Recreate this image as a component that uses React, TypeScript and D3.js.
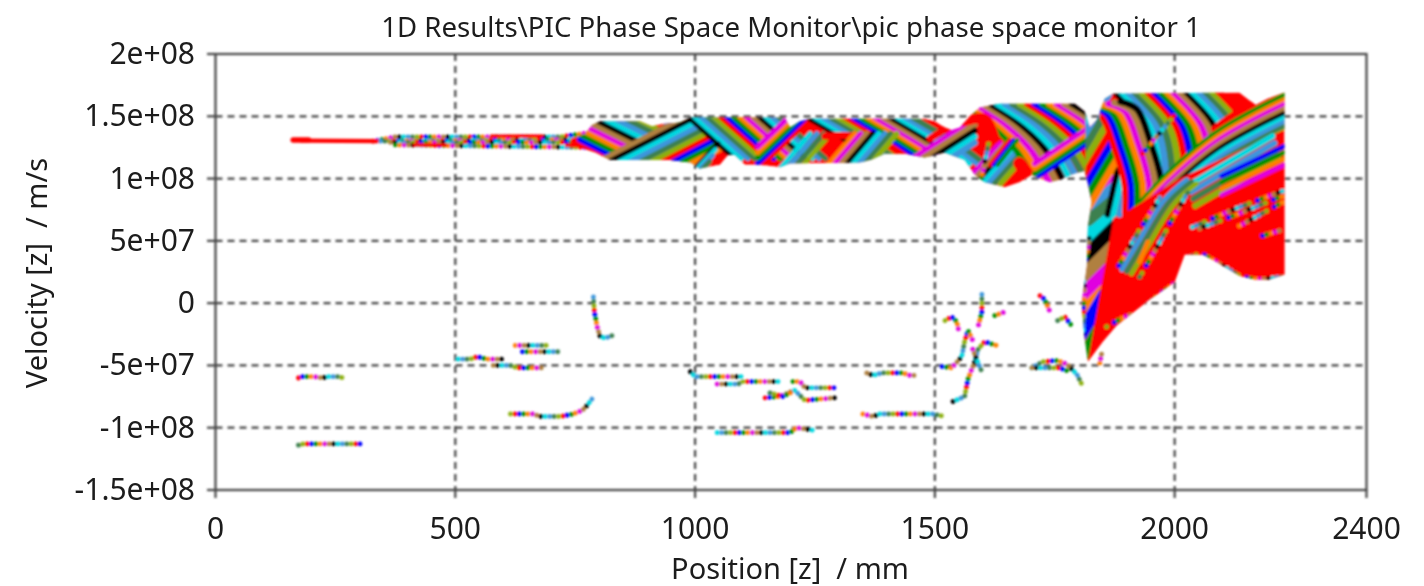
import React from "react";
import * as d3 from "d3";

type P = [number, number];

// Axis values
const xTicks = [0, 500, 1000, 1500, 2000, 2400];
const yTicks = [200, 150, 100, 50, 0, -50, -100, -150];
const yTickLabels = ["2e+08", "1.5e+08", "1e+08", "5e+07", "0", "-5e+07", "-1e+08", "-1.5e+08"];
const titleText = "1D Results\\PIC Phase Space Monitor\\pic phase space monitor 1";
const xLabelText = "Position [z]  / mm";
const yLabelText = "Velocity [z]  / m/s";

// Particle colour cycle
const cycle = ["#ff0000", "#0000ff", "#009000", "#ff8000", "#e000e0", "#b08040", "#000000", "#00d8e0", "#3c96dc", "#3c8050", "#8cb010"];

// All points: [position in mm, velocity in 1e6 m/s]
const bodyOutline: P[] = [
  [740,132],[771,136],[785,143],[802,146],[885,146],[910,142],[937,144],[969,145],[990,149],[1156,149],[1187,149],[1198,141],[1219,146],[1240,148],[1479,148],[1500,146],[1521,141],[1535,139],[1552,141],[1573,150],[1594,157],[1635,160],[1792,160],[1812,154],[1823,141],[1838,147],[1854,164],[1871,168],[2135,169],[2152,164],[2169,159],[2194,164],[2229,169],
  [2229,23],[2198,19],[2167,19],[2135,22],[2083,34],[2058,39],[2021,39],[2000,17],[1948,3],[1879,-18],[1850,-31],[1819,-47],[1812,-27],[1806,0],[1817,30],[1819,62],[1827,81],[1819,96],[1812,106],[1792,104],[1760,99],[1740,97],[1719,100],[1702,103],[1677,97],[1646,93],[1604,97],[1583,103],[1562,115],[1521,121],[1479,117],[1438,120],[1396,120],[1365,115],[1344,113],[1198,112],[1177,109],[1135,111],[1104,111],[1083,119],[1069,119],[1052,111],[1010,108],[990,113],[948,115],[823,115],[792,121],[760,125],[740,125],
];
const redWedge: P[] = [[1819,-47],[1844,7],[1869,61],[1881,87],[1927,111],[2240,111],[2240,11],[1819,-53]];
const upperZone: P[] = [[1844,175],[2250,175],[2250,143],[2010,100],[1885,70],[1844,70]];
const lobeZone: P[] = [[1814,60],[1814,175],[1900,175],[1900,60]];

const redLineHead: P[] = [[162,131],[194,131]];
const redLineTail: P[] = [[177,130.5],[340,130]];

const b1: P[] = [[760,127],[1010,79]];
const b2: P[] = [[812,116],[1115,176]];
const b3: P[] = [[969,155],[1083,116]];
const b4: P[] = [[1000,108],[1048,128]];
const b5: P[] = [[1131,108],[1229,144]];
const b6: P[] = [[1177,108],[1240,136]];
const b7: P[] = [[1208,155],[1344,124],[1385,112]];
const b8: P[] = [[1271,134],[1333,134],[1396,128],[1421,122]];
const b9: P[] = [[1271,108],[1333,136]];
const b10: P[] = [[1438,112],[1583,148]];
const b10Top: P[] = [[1490,132],[1577,154]];
const b11: P[] = [[1562,96],[1635,128]];
const b12: P[] = [[1552,160],[1615,144],[1667,124],[1708,96]];
const blobA: P[] = [[1562,146],[1604,148],[1625,132]];
const blobB: P[] = [[1677,112],[1698,101]];
const b12Low: P[] = [[1615,111],[1656,131]];
const b13: P[] = [[1708,100],[1833,132]];
const leftBlocks: P[] = [[1781,-17],[1896,27]];
const leftBlue: P[] = [[1792,-33],[1854,7]];
const leftGreen: P[] = [[1812,-41],[1854,-13]];
const leftSeaGreen: P[] = [[1819,67],[1869,83]];
const leftSteel: P[] = [[1819,78],[1869,94]];
const leftMagenta: P[] = [[1819,87],[1869,103]];
const leftOrange: P[] = [[1819,97],[1885,111]];
const l3: P[] = [[1860,71],[1881,107]];
const l0: P[] = [[1771,119],[1858,175]];
const l1: P[] = [[1812,157],[1846,151],[1875,124],[1896,95],[1896,67]];
const l2: P[] = [[1869,172],[1933,144],[1954,108],[1948,76]];
const edgeRed: P[] = [[2083,140],[2135,154],[2229,172]];
const f1: P[] = [[1906,71],[1983,103],[2087,137],[2229,167]];
const f2: P[] = [[2031,95],[2204,134]];
const f3: P[] = [[2098,102],[2229,126]];
const i1: P[] = [[1890,27],[1927,51],[1979,83],[2025,99]];
const orangeShort: P[] = [[1927,33],[1944,49]];

const thinRows: P[][] = [
  [[329,130],[375,133.5],[531,133.5],[719,133.5],[781,137]],
  [[344,130],[781,131.5]],
  [[365,129],[771,129]],
  [[375,127],[781,125]],
];
const thinRed: P[][] = [
  [[412,127],[483,127]],
  [[729,127],[781,126]],
  [[573,134],[683,134]],
];

const beadsInBody: P[][] = [
  [[1879,27],[1921,55],[1973,87]],
  [[1927,21],[1969,49],[1994,67],[2031,91]],
  [[2037,61],[2121,75],[2225,90]],
  [[2052,60],[2135,72],[2225,86]],
  [[2135,62],[2225,81]],
  [[2183,54],[2225,59]],
  [[1858,-19],[1885,-13],[1910,-9]],
  [[2027,37],[2056,40],[2087,33],[2139,21],[2177,19],[2223,21]],
  [[1858,-31],[1906,-15],[1948,1],[2000,16]],
  [[1808,-32],[1812,13],[1808,24],[1819,43],[1823,57]],
  [[1597,100],[1612,128]],
  [[1933,120],[2002,152]],
];

const sparseCurves: P[][] = [
  [[173,-60],[177,-59],[204,-59],[223,-60],[235,-59],[256,-59],[267,-60]],
  [[173,-114],[183,-113],[225,-113],[240,-113],[302,-113]],
  [[506,-45],[531,-45],[546,-43],[567,-45],[598,-45]],
  [[579,-50],[615,-50],[629,-52],[681,-52]],
  [[625,-34],[692,-34]],
  [[640,-39],[715,-39]],
  [[615,-89],[662,-89],[677,-91],[719,-91],[746,-89],[765,-86],[775,-82],[785,-77]],
  [[788,5],[790,-7],[796,-19],[802,-27],[813,-28],[827,-26]],
  [[990,-55],[1000,-59],[1104,-59]],
  [[1046,-65],[1090,-65],[1098,-63],[1173,-63]],
  [[1204,-63],[1219,-63],[1229,-68],[1292,-68]],
  [[1146,-76],[1177,-75],[1208,-70],[1229,-78],[1292,-76]],
  [[1156,-72],[1183,-75],[1204,-71]],
  [[1046,-104],[1198,-104],[1212,-100],[1246,-102]],
  [[1358,-56],[1371,-58],[1390,-56],[1433,-56],[1448,-58],[1465,-58]],
  [[1350,-89],[1371,-91],[1385,-89],[1496,-89],[1521,-91]],
  [[1515,-51],[1535,-52],[1556,-43],[1562,-31],[1569,-22],[1579,-30]],
  [[1521,-14],[1535,-11],[1546,-15],[1550,-23]],
  [[1598,7],[1598,-7],[1590,-19]],
  [[1538,-79],[1562,-75],[1569,-61],[1583,-47],[1590,-37],[1604,-31],[1629,-34]],
  [[1579,-37],[1587,-45],[1598,-55]],
  [[1625,-10],[1646,-7]],
  [[1719,6],[1729,3],[1740,-7]],
  [[1756,-14],[1771,-11],[1787,-19]],
  [[1702,-52],[1725,-47],[1756,-46],[1775,-49],[1796,-57],[1806,-65]],
  [[1702,-52],[1725,-52],[1760,-52],[1781,-55]],
  [[1844,-48],[1848,-40]],
];

const W = 1424, H = 586;
const x = d3.scaleLinear().domain([0, 2400]).range([215.5, 1366.5]);
const y = d3.scaleLinear().domain([-150, 200]).range([490, 54]);
const lineOf = d3.line<P>().x((d) => x(d[0])).y((d) => y(d[1]));
const smoothOf = d3.line<P>().x((d) => x(d[0])).y((d) => y(d[1])).curve(d3.curveCatmullRom.alpha(0.5));

function Stripes({ pts, dx = 0, dy = 0, start = 0, n = 1, w = 7 }: { pts: P[]; dx?: number; dy?: number; start?: number; n?: number; w?: number }) {
  return (
    <g fill="none" strokeWidth={w} strokeLinejoin="round" strokeLinecap="round">
      {d3.range(n).map((k) => (
        <path
          key={k}
          d={(smoothOf(pts.map(([a, b]) => [a + k * dx, b + k * dy] as P)) as string)}
          stroke={cycle[(start + k) % cycle.length]}
        />
      ))}
    </g>
  );
}

const STEP = 4.4;
function Beads({ pts, phase = 0, r = 4.8 }: { pts: P[]; phase?: number; r?: number }) {
  const period = STEP * cycle.length;
  return (
    <g fill="none" strokeWidth={r} strokeLinecap="round" strokeLinejoin="round">
      {cycle.map((c, i) => (
        <path key={i} d={lineOf(pts) as string} stroke={c} strokeDasharray={`0.1 ${period - 0.1}`} strokeDashoffset={-((i + phase) % cycle.length) * STEP} />
      ))}
    </g>
  );
}

export default function App() {
  const axisC = "#444";
  const textC = "#1c1c1c";
  const font = "'Noto Sans', sans-serif";
  return (
    <svg width={W} height={H} viewBox={`0 0 ${W} ${H}`} style={{ position: "absolute", left: 0, top: 0, background: "#fff" }}>
      <defs>
        <filter id="soft" x={0} y={0} width={W} height={H} filterUnits="userSpaceOnUse">
          <feGaussianBlur stdDeviation="0.85" />
        </filter>
        <filter id="softText" x={0} y={0} width={W} height={H} filterUnits="userSpaceOnUse">
          <feGaussianBlur stdDeviation="0.55" />
        </filter>
        <clipPath id="bodyClip">
          <path d={(lineOf(bodyOutline) as string) + "Z"} />
        </clipPath>
        <clipPath id="upperClip">
          <path d={(lineOf(upperZone) as string) + "Z"} />
        </clipPath>
        <clipPath id="lobeClip">
          <path d={(lineOf(lobeZone) as string) + "Z"} />
        </clipPath>
      </defs>
      <rect width={W} height={H} fill="#fff" />
      <g filter="url(#soft)">
        {/* grid */}
        <g stroke="#444" strokeWidth={2.2} strokeDasharray="7 5" fill="none">
          {xTicks.slice(1, -1).map((t) => <line key={t} x1={x(t)} x2={x(t)} y1={54} y2={490} />)}
          {yTicks.slice(1, -1).map((t) => <line key={t} x1={215.5} x2={1366.5} y1={y(t)} y2={y(t)} />)}
        </g>

        {/* thin beam */}
        {thinRows.map((r, i) => <Beads key={i} pts={r} phase={i * 3} />)}
        {thinRed.map((r, i) => <path key={i} d={lineOf(r) as string} stroke={cycle[0]} strokeWidth={3.5} fill="none" />)}
        <path d={lineOf(redLineHead) as string} stroke={cycle[0]} strokeWidth={5.5} fill="none" strokeLinecap="round" />
        <path d={lineOf(redLineTail) as string} stroke={cycle[0]} strokeWidth={4.2} fill="none" />

        {/* main body */}
        <g clipPath="url(#bodyClip)">
          <path d={(lineOf(bodyOutline) as string) + "Z"} fill={cycle[0]} />
          <Stripes pts={b1} dy={4.4} start={0} n={15} w={6} />
          <Stripes pts={b2} dy={-4.4} start={5} n={10} w={6} />
          <Stripes pts={b3} dx={13.5} start={6} n={15} w={5} />
          <Stripes pts={b4} dx={-6} dy={-4.8} start={6} n={4} w={5} />
          <Stripes pts={b5} dy={4.4} start={0} n={5} w={5.5} />
          <Stripes pts={b6} dx={14} start={7} n={4} w={5} />
          <Stripes pts={b7} dx={15.6} start={6} n={15} w={5.5} />
          <Stripes pts={b8} start={0} w={7} />
          <Stripes pts={b9} dx={12.5} start={3} n={8} w={5.5} />
          <Stripes pts={b10} dy={-4.8} start={4} n={5} w={6} />
          <Stripes pts={b10Top} start={0} w={7} />
          <Stripes pts={b11} dx={12.5} start={4} n={7} w={5.5} />
          <Stripes pts={b12} dx={15.6} start={2} n={16} w={6.4} />
          <Stripes pts={blobA} start={0} w={10} />
          <Stripes pts={blobB} start={0} w={13} />
          <Stripes pts={b12Low} dx={8} start={0} n={3} w={4} />
          <Stripes pts={b13} dy={4} start={1} n={4} w={5} />

          {/* lower left colour fan */}
          <Stripes pts={leftBlocks} dy={14.4} start={3} n={5} w={14} />
          <Stripes pts={leftSeaGreen} start={9} w={13} />
          <Stripes pts={leftSteel} start={8} w={12} />
          <Stripes pts={leftMagenta} start={4} w={11} />
          <Stripes pts={leftOrange} start={3} w={11} />
          <Stripes pts={leftBlue} start={1} w={13} />
          <Stripes pts={leftGreen} start={2} w={12} />
          <path d={(lineOf(redWedge) as string) + "Z"} fill={cycle[0]} />

          <Stripes pts={l3} dx={12.5} start={6} n={3} w={6} />
          <g clipPath="url(#lobeClip)">
            <Stripes pts={l0} dx={4} dy={-8} start={7} n={8} w={7} />
          </g>
          <g clipPath="url(#upperClip)">
            <Stripes pts={l2} dx={13.5} start={6} n={17} w={6.8} />
            <Stripes pts={l1} dx={12.5} dy={0.8} start={0} n={7} w={6.4} />
            <Stripes pts={edgeRed} start={0} w={7} />
            <Stripes pts={f1} dy={-3.6} start={2} n={10} w={4.8} />
          </g>
          <Stripes pts={f2} dx={4} dy={-5.6} start={7} n={4} w={6} />
          <Stripes pts={f3} dy={-5} start={1} n={4} w={4.6} />
          <Stripes pts={i1} dx={10} dy={-1.6} start={8} n={3} w={5} />
          <Stripes pts={orangeShort} start={3} w={5} />
          {beadsInBody.map((r, i) => <Beads key={i} pts={r} phase={i * 2} />)}
        </g>

        {/* scattered particles */}
        {sparseCurves.map((c, i) => <Beads key={i} pts={c} phase={i * 2} />)}

        {/* axes */}
        <rect x={215.5} y={54} width={1151} height={436} fill="none" stroke={axisC} strokeWidth={2.2} />
        <g stroke={axisC} strokeWidth={2.2}>
          {yTicks.map((t) => <line key={t} x1={207} x2={216} y1={y(t)} y2={y(t)} />)}
          {xTicks.map((t) => <line key={t} x1={x(t)} x2={x(t)} y1={490} y2={498} />)}
        </g>
      </g>

      {/* labels */}
      <g fontFamily={font} fill={textC} filter="url(#softText)">
        {yTicks.map((t, i) => (
          <text key={t} x={195} y={y(t) + 10} textAnchor="end" fontSize={30}>{yTickLabels[i]}</text>
        ))}
        {xTicks.map((t) => (
          <text key={t} x={x(t)} y={539} textAnchor="middle" fontSize={30}>{t}</text>
        ))}
        <text x={791} y={37} textAnchor="middle" fontSize={27.6}>{titleText}</text>
        <text x={790} y={579} textAnchor="middle" fontSize={29} style={{ whiteSpace: "pre" }}>{xLabelText}</text>
        <text transform="translate(47,273) rotate(-90)" textAnchor="middle" fontSize={29} style={{ whiteSpace: "pre" }}>{yLabelText}</text>
      </g>
    </svg>
  );
}
